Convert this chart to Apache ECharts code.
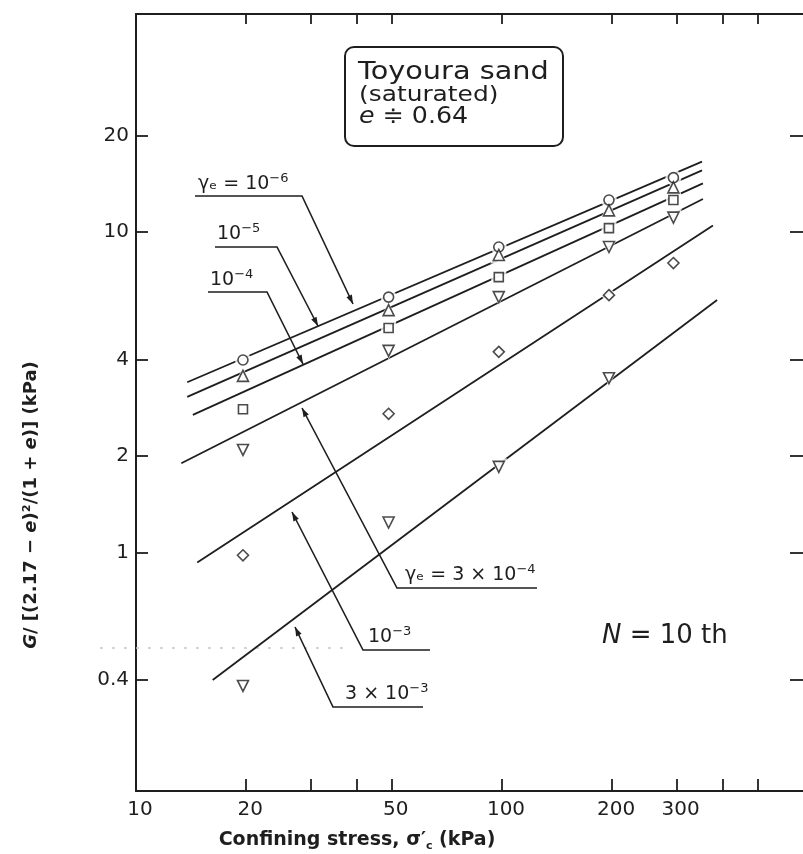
<!DOCTYPE html>
<html>
<head>
<meta charset="utf-8">
<script src="https://cdn.jsdelivr.net/npm/echarts@6/dist/echarts.min.js"></script>
<style>
  html, body { margin: 0; padding: 0; background: #fff; }
  #chart { width: 803px; height: 854px; }
</style>
</head>
<body>
<div id="chart"></div>
<script>
// Confining stress of each test stage (kPa)
const stressLevels = [19.6, 49, 98, 196, 294];

// Normalised modulus G/[(2.17-e)^2/(1+e)] (kPa) at each shear strain amplitude
const gStrain1e6 = [3.99, 6.27, 8.99, 12.6, 14.8];
const gStrain1e5 = [3.56, 5.71, 8.49, 11.7, 13.8];
const gStrain1e4 = [2.80, 5.02, 7.24, 10.3, 12.6];
const gStrain3e4 = [2.09, 4.26, 6.27, 8.99, 11.1];
const gStrain1e3 = [0.98, 2.71, 4.23, 6.36, 8.01];
const gStrain3e3 = [0.383, 1.24, 1.85, 3.50];

// Fitted power-law lines, [stress, G] at both ends
const fit1e6 = [[13.8, 3.40], [352, 16.6]];
const fit1e5 = [[13.8, 3.06], [352, 15.6]];
const fit1e4 = [[14.3, 2.69], [354, 14.2]];
const fit3e4 = [[13.3, 1.90], [354, 12.7]];
const fit1e3 = [[14.7, 0.93], [377, 10.5]];
const fit3e3 = [[16.2, 0.40], [387, 6.14]];

// Axis ticks and labels
const xTickValues = [20, 30, 40, 50, 100, 200, 300, 400, 500];
const xLabelValues = [10, 20, 50, 100, 200, 300];
const yTickValues = [0.4, 1, 2, 4, 10, 20];

const INK = '#1e1e1e';
const FONT = '"DejaVu Sans", sans-serif';

function pairs(g) {
  return g.map((v, i) => [stressLevels[i], v]);
}

const groups = [
  { g: gStrain1e6, fit: fit1e6, symbol: 'circle', size: 10, rot: 0 },
  { g: gStrain1e5, fit: fit1e5, symbol: 'triangle', size: 11, rot: 0 },
  { g: gStrain1e4, fit: fit1e4, symbol: 'rect', size: 9, rot: 0 },
  { g: gStrain3e4, fit: fit3e4, symbol: 'triangle', size: 11, rot: 180 },
  { g: gStrain1e3, fit: fit1e3, symbol: 'diamond', size: 11, rot: 0 },
  { g: gStrain3e3, fit: fit3e3, symbol: 'triangle', size: 11, rot: 180 }
];

const series = [];
groups.forEach((grp) => {
  series.push({
    type: 'line', data: grp.fit, showSymbol: false, symbol: 'none', silent: true,
    lineStyle: { color: INK, width: 1.8 }, z: 2, xAxisIndex: 0, yAxisIndex: 0
  });
  // white halo so the line breaks around each point
  series.push({
    type: 'scatter', data: pairs(grp.g), symbol: grp.symbol, symbolRotate: grp.rot,
    symbolSize: grp.size + 6, itemStyle: { color: '#fff' }, silent: true, z: 3
  });
  series.push({
    type: 'scatter', data: pairs(grp.g), symbol: grp.symbol, symbolRotate: grp.rot,
    symbolSize: grp.size, silent: true, z: 4,
    itemStyle: { color: '#fff', borderColor: INK, borderWidth: 1.6 }
  });
});

// Leader line with an arrowhead at its last point
function leader(points) {
  const n = points.length;
  const [x1, y1] = points[n - 2];
  const [x2, y2] = points[n - 1];
  const len = Math.hypot(x2 - x1, y2 - y1);
  const ux = (x2 - x1) / len, uy = (y2 - y1) / len;
  const L = 9, H = 3;
  const bx = x2 - ux * L, by = y2 - uy * L;
  return [
    { type: 'polyline', shape: { points }, style: { stroke: INK, lineWidth: 1.6, fill: null }, z: 10 },
    { type: 'polygon', shape: { points: [[x2, y2], [bx - uy * H, by + ux * H], [bx + uy * H, by - ux * H]] },
      style: { fill: INK }, z: 10 }
  ];
}

// Text anchored at its bottom-left corner; {p|..} marks a raised exponent
function label(text, x, y, size, opts) {
  opts = opts || {};
  return {
    type: 'text', x, y, z: 10, scaleX: opts.scaleX || 1,
    style: {
      text, font: size + 'px ' + FONT, fill: INK, lineHeight: size + 6,
      align: 'left', verticalAlign: 'bottom', textAlign: 'left', textVerticalAlign: 'bottom',
      rich: {
        p: { fontSize: Math.round(size * 0.68), fontFamily: FONT, fill: INK, verticalAlign: 'top', lineHeight: size + 6 },
        i: { fontStyle: 'italic', fontSize: size, fontFamily: FONT, fill: INK, lineHeight: size + 6 }
      }
    }
  };
}

const graphics = [
  // strain labels with their leaders
  label('γₑ = 10{p|−6}', 198, 197, 19),
  ...leader([[195, 196], [302, 196], [353, 304]]),
  label('10{p|−5}', 217, 247, 19),
  ...leader([[215, 247], [277, 247], [318, 326]]),
  label('10{p|−4}', 210, 293, 19),
  ...leader([[208, 292], [267, 292], [303, 364]]),
  label('γₑ = 3 × 10{p|−4}', 405, 588, 19),
  ...leader([[537, 588], [397, 588], [302, 408]]),
  label('10{p|−3}', 368, 650, 19),
  ...leader([[430, 650], [363, 650], [292, 512]]),
  label('3 × 10{p|−3}', 345, 707, 19),
  ...leader([[423, 707], [333, 707], [295, 627]]),

  // material box
  { type: 'rect', shape: { x: 345, y: 47, width: 218, height: 99, r: 9 },
    style: { fill: '#fff', stroke: INK, lineWidth: 2 }, z: 9 },
  label('Toyoura sand', 358, 88, 25, { scaleX: 1.15 }),
  label('(saturated)', 359, 109, 22, { scaleX: 1.13 }),
  label('{i|e} ≑ 0.64', 359, 132, 23, { scaleX: 1.1 }),

  // number of cycles
  label('{i|N} = 10 th', 602, 652, 26),

  // faint dotted trace across the lower left
  { type: 'line', shape: { x1: 100, y1: 648, x2: 345, y2: 648 },
    style: { stroke: '#c8c8c8', lineWidth: 1.5, lineDash: [3, 9] }, z: 1 },

  // axis titles
  { type: 'text', x: 357, y: 840, z: 10,
    style: { text: 'Confining stress, σ′{s|c} (kPa)', font: 'bold 19px ' + FONT, fill: INK, lineHeight: 24,
      align: 'center', verticalAlign: 'middle', textAlign: 'center', textVerticalAlign: 'middle',
      rich: { s: { fontSize: 11, fontWeight: 'bold', fontFamily: FONT, fill: INK, verticalAlign: 'bottom', lineHeight: 24 } } } },
  { type: 'text', x: 31, y: 505, rotation: Math.PI / 2, z: 10,
    style: { text: '{i|G}/ [(2.17 − {i|e})²/(1 + {i|e})] (kPa)', font: 'bold 18px ' + FONT, fill: INK,
      align: 'center', verticalAlign: 'middle', textAlign: 'center', textVerticalAlign: 'middle',
      rich: { i: { fontStyle: 'italic', fontWeight: 'bold', fontSize: 18, fontFamily: FONT, fill: INK } } } }
];

function fmt(v) { return String(Math.round(v * 100) / 100); }

const axisLineStyle = { show: true, lineStyle: { color: INK, width: 2 } };
const X_MAX = 721;

const option = {
  animation: false,
  backgroundColor: '#fff',
  // the plot frame runs past the right edge of the page
  grid: { left: 136, top: 14, width: 680, height: 777, containLabel: false, outerBoundsMode: 'none' },
  xAxis: [
    {
      type: 'log', logBase: 10, min: 10, max: X_MAX, position: 'bottom',
      axisLine: axisLineStyle,
      axisTick: { show: true, inside: true, length: 12, customValues: xTickValues, lineStyle: { color: INK, width: 1.8 } },
      minorTick: { show: false },
      axisLabel: { show: true, customValues: xLabelValues, formatter: fmt, margin: 9, padding: [0, 0, 0, 8],
        fontSize: 20, fontFamily: FONT, color: INK },
      splitLine: { show: false }
    },
    {
      type: 'log', logBase: 10, min: 10, max: X_MAX, position: 'top',
      axisLine: axisLineStyle,
      axisTick: { show: true, inside: true, length: 10, customValues: xTickValues, lineStyle: { color: INK, width: 1.8 } },
      axisLabel: { show: false },
      splitLine: { show: false }
    }
  ],
  yAxis: [
    {
      type: 'log', logBase: 10, min: 0.18, max: 48, position: 'left',
      axisLine: axisLineStyle,
      axisTick: { show: true, inside: true, length: 12, customValues: yTickValues, lineStyle: { color: INK, width: 1.8 } },
      axisLabel: { show: true, customValues: yTickValues, formatter: fmt, margin: 7,
        fontSize: 20, fontFamily: FONT, color: INK },
      splitLine: { show: false }
    },
    {
      type: 'log', logBase: 10, min: 0.18, max: 48, position: 'right',
      axisLine: axisLineStyle,
      axisTick: { show: true, inside: true, length: 26, customValues: yTickValues, lineStyle: { color: INK, width: 1.8 } },
      axisLabel: { show: false },
      splitLine: { show: false }
    }
  ],
  series,
  graphic: graphics
};

const chart = echarts.init(document.getElementById('chart'), null, { renderer: 'canvas' });
chart.setOption(option);
</script>
</body>
</html>
